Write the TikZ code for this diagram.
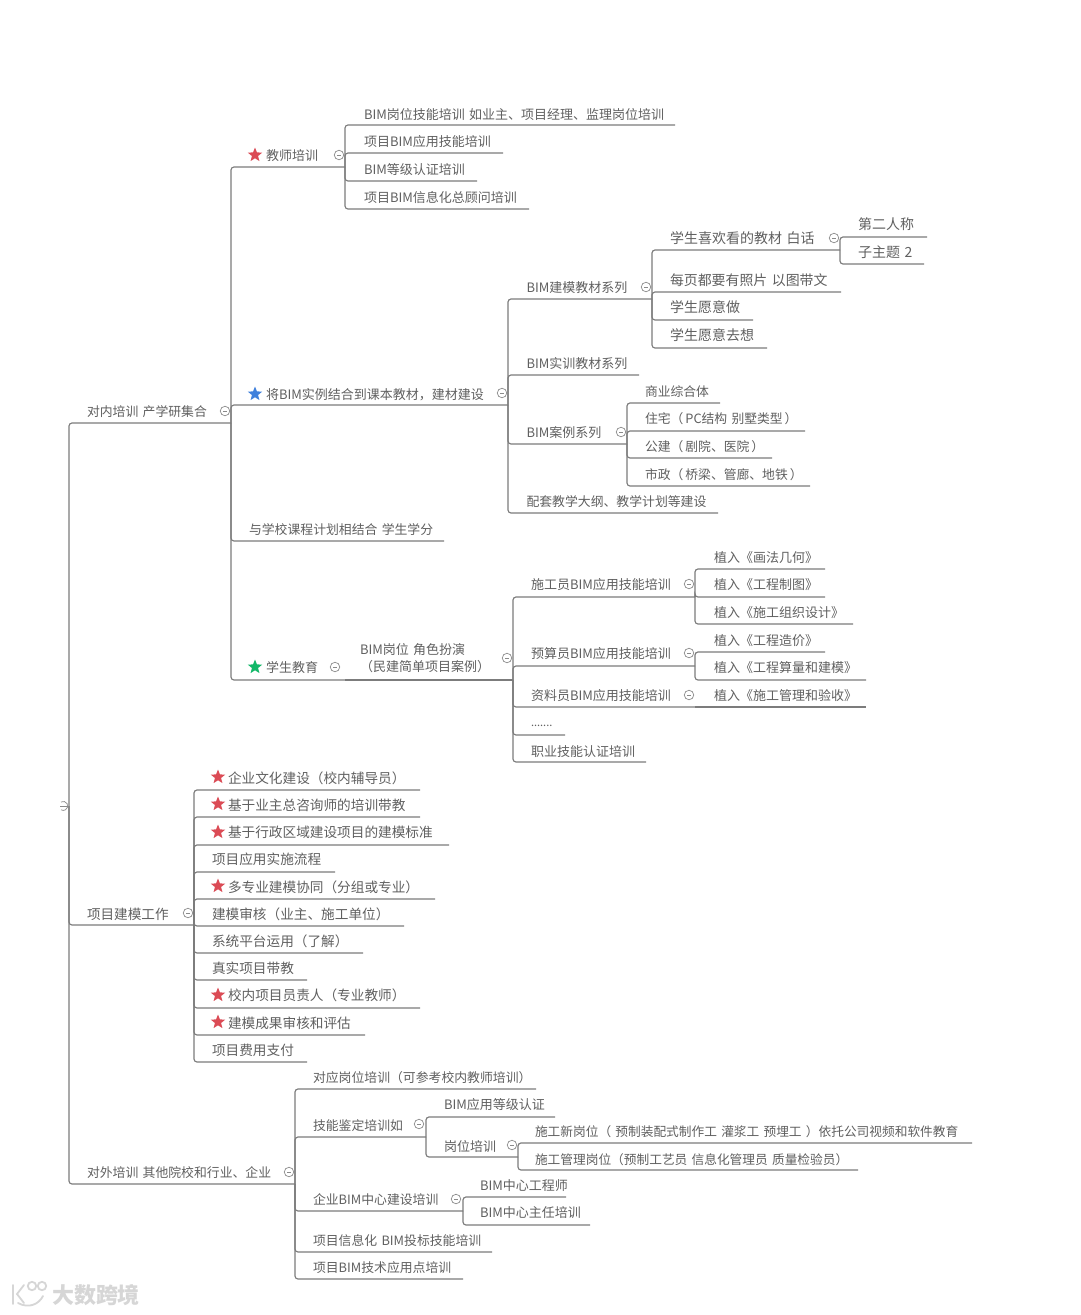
\documentclass[tikz,border=0pt]{standalone}
\usepackage{fontspec}
\setmainfont{Noto Sans CJK SC}
\usetikzlibrary{shapes.geometric}
\definecolor{txt}{HTML}{606060}
\definecolor{ln}{HTML}{7C7C7C}
\definecolor{icon}{HTML}{8A8A8A}
\definecolor{sred}{HTML}{DB4B55}
\definecolor{sblue}{HTML}{3F80DC}
\definecolor{sgreen}{HTML}{12B868}
\definecolor{wm}{HTML}{D6D6D6}
\tikzset{
  link/.style={draw=ln,line width=1.15pt,rounded corners=3pt},
  topic/.style={anchor=south west,inner sep=0pt,outer sep=0pt,align=left,text=txt},
  fold/.style={circle,draw=icon,line width=0.7pt,minimum size=9.5pt,inner sep=0pt,fill=white,
    path picture={\draw[icon,line width=0.7pt] ([xshift=2.5pt]path picture bounding box.west) -- ([xshift=-2.5pt]path picture bounding box.east);}},
  mark star/.style={star,star points=5,star point ratio=2.3,inner sep=0pt,minimum size=15pt,draw=none,fill=#1},
  wmark/.style={draw=wm,line width=1.8pt,line cap=round}
}
% [size]{name}{line start x}{line end x}{line y}{text centre y}{text x}{text}
\newcommand{\tp}[8][12.85]{%
  \node[topic,minimum width={(#4-#3)*1pt},text width={(#4-#3)*1pt},minimum height={2*(#5-#6-1)*1pt},
        font={\fontsize{#1}{17}\selectfont}] (#2) at (#3,#5) {\hspace*{\dimexpr#7pt-#3pt\relax}#8};}
% parent -> list of children
\newcommand{\lks}[2]{\foreach \cc in {#2} \draw[link] (#1.south east) |- (\cc.south east);}
\begin{document}
\begin{tikzpicture}[x=1pt,y=-1pt]
\useasboundingbox (0,0) rectangle (1080,1315);
\fill[white] (0,0) rectangle (1080,1315);

\node[inner sep=0pt,minimum size=0pt] (root) at (69,806) {};

% level 1
\tp{nei}{69}{231}{423}{411}{87}{对内培训 产学研集合}
\tp[13.6]{jm}{69}{194}{925}{913}{87}{项目建模工作}
\tp{wai}{69}{295}{1184}{1172}{87}{对外培训  其他院校和行业、企业}

% level 2 inner
\tp[13]{js}{231}{345}{167}{155}{266}{教师培训}
\tp[13]{kb}{231}{508}{405}{394}{266}{将BIM实例结合到课本教材，建材建设}
\tp{xk}{231}{444}{541}{529}{249}{与学校课程计划相结合 学生学分}
\tp[13]{xs}{231}{345}{680}{667}{266}{学生教育}
\tp[13]{gw}{345}{513}{680}{657.5}{360}{BIM岗位 角色扮演\\\hspace*{15pt}（民建简单项目案例）}
\node[mark star=sred] (s1) at (255,155) {};
\node[mark star=sblue] (s2) at (255,394) {};
\node[mark star=sgreen] (s3) at (255,667) {};

% teachers
\tp[13]{j1}{345}{675}{125}{114}{364}{BIM岗位技能培训 如业主、项目经理、监理岗位培训}
\tp[13]{j2}{345}{503}{153}{141}{364}{项目BIM应用技能培训}
\tp[13]{j3}{345}{477}{181}{169}{364}{BIM等级认证培训}
\tp[13]{j4}{345}{529}{209}{197}{364}{项目BIM信息化总顾问培训}

% textbooks
\tp[13]{k1}{508}{652}{299}{287}{526.5}{BIM建模教材系列}
\tp[13]{k2}{508}{639}{375}{363}{526.5}{BIM实训教材系列}
\tp[13]{k3}{508}{627}{444}{432}{526.5}{BIM案例系列}
\tp{k4}{508}{718}{513}{501}{526.5}{配套教学大纲、教学计划等建设}

\tp[14]{m1}{652}{840}{250}{237}{670}{学生喜欢看的教材 白话}
\tp[13.9]{m2}{652}{841}{292}{279}{670}{每页都要有照片 以图带文}
\tp[14]{m3}{652}{753}{320}{306}{670}{学生愿意做}
\tp[14]{m4}{652}{767}{348}{334}{670}{学生愿意去想}
\tp[14]{p1}{840}{927}{237}{223}{858}{第二人称}
\tp[14]{p2}{840}{924}{264}{251}{858}{子主题 2}

\tp[12.8]{c1}{627}{720}{403}{391}{645}{商业综合体}
\tp[12.8]{c2}{627}{805}{431}{418}{645}{住宅（\hspace{2pt}PC结构 别墅类型\hspace{2pt}）}
\tp[12.8]{c3}{627}{772}{458}{446}{645}{公建（\hspace{2pt}剧院、医院\hspace{2pt}）}
\tp[12.8]{c4}{627}{810}{486}{474}{645}{市政（\hspace{2pt}桥梁、管廊、地铁\hspace{2pt}）}

% students
\tp[13]{g1}{513}{695}{597}{584}{531}{施工员BIM应用技能培训}
\tp[13]{g2}{513}{695}{666}{653}{531}{预算员BIM应用技能培训}
\tp[13]{g3}{513}{695}{707}{695}{531}{资料员BIM应用技能培训}
\tp[11]{g4}{513}{565}{735}{725}{531}{.......}
\tp[13]{g5}{513}{646}{762}{751}{531}{职业技能认证培训}

\tp[13]{h1}{695}{825}{569}{557}{714}{植入《画法几何》}
\tp[13]{h2}{695}{825}{597}{584}{714}{植入《工程制图》}
\tp[13]{h3}{695}{853}{624}{612}{714}{植入《施工组织设计》}
\tp[13]{h4}{695}{825}{652}{640}{714}{植入《工程造价》}
\tp[13]{h5}{695}{866}{680}{667}{714}{植入《工程算量和建模》}
\tp[13]{h6}{695}{866}{707}{695}{714}{植入《施工管理和验收》}

% modelling list
\tp[13.65]{b1}{194}{420}{790}{777}{228}{企业文化建设（校内辅导员）}
\tp[13.65]{b2}{194}{420}{817}{804}{228}{基于业主总咨询师的培训带教}
\tp[13.65]{b3}{194}{449}{845}{831}{228}{基于行政区域建设项目的建模标准}
\tp[13.65]{b4}{194}{335}{872}{858}{212}{项目应用实施流程}
\tp[13.65]{b5}{194}{435}{899}{886}{228}{多专业建模协同（分组或专业）}
\tp[13.65]{b6}{194}{404}{926}{913}{212}{建模审核（业主、施工单位）}
\tp[13.65]{b7}{194}{363}{953}{940}{212}{系统平台运用（了解）}
\tp[13.65]{b8}{194}{307}{980}{967}{212}{真实项目带教}
\tp[13.65]{b9}{194}{420}{1008}{994}{228}{校内项目员责人（专业教师）}
\tp[13.65]{b10}{194}{365}{1035}{1022}{228}{建模成果审核和评估}
\tp[13.65]{b11}{194}{307}{1062}{1049}{212}{项目费用支付}
\node[mark star=sred] (t1) at (218,777) {};
\node[mark star=sred] (t2) at (218,804) {};
\node[mark star=sred] (t3) at (218,832) {};
\node[mark star=sred] (t5) at (218,886) {};
\node[mark star=sred] (t9) at (218,995) {};
\node[mark star=sred] (t10) at (218,1022) {};

% external
\tp{w1}{295}{536}{1089}{1077}{313}{对应岗位培训（可参考校内教师培训）}
\tp{w2}{295}{426}{1137}{1125}{313}{技能鉴定培训如}
\tp{w3}{295}{463}{1211}{1199}{313}{企业BIM中心建设培训}
\tp{w4}{295}{492}{1252}{1240}{313}{项目信息化 BIM投标技能培训}
\tp{w5}{295}{463}{1279}{1267}{313}{项目BIM技术应用点培训}

\tp[13]{x1}{426}{555}{1117}{1104}{444}{BIM应用等级认证}
\tp[13]{x2}{426}{518}{1157}{1145}{444}{岗位培训}
\tp[12.7]{y1}{518}{972}{1143}{1131}{535}{施工新岗位（ 预制装配式制作工 灌浆工 预埋工 ）依托公司视频和软件教育}
\tp[12.7]{y2}{518}{858}{1170}{1159}{535}{施工管理岗位（预制工艺员 信息化管理员 质量检验员）}
\tp[13]{z1}{463}{566}{1197}{1185}{480}{BIM中心工程师}
\tp[13]{z2}{463}{590}{1225}{1212}{480}{BIM中心主任培训}

% connectors
\foreach \cc in {nei,jm,wai} \draw[link] (root.center) |- (\cc.south east);
\lks{nei}{js,kb,xk,xs}
\draw[link] (xs.south east) -- (gw.south east);
\lks{js}{j1,j2,j3,j4}
\lks{kb}{k1,k2,k3,k4}
\lks{k1}{m1,m2,m3,m4}
\lks{m1}{p1,p2}
\lks{k3}{c1,c2,c3,c4}
\lks{gw}{g1,g2,g3,g4,g5}
\lks{g1}{h1,h2,h3}
\lks{g2}{h4,h5}
\draw[link] (g3.south east) -- (h6.south east);
\lks{jm}{b1,b2,b3,b4,b5,b6,b7,b8,b9,b10,b11}
\lks{wai}{w1,w2,w3,w4,w5}
\lks{w2}{x1,x2}
\lks{x2}{y1,y2}
\lks{w3}{z1,z2}

% fold marks
\node[fold] (f1) at (225,411) {};
\node[fold] (f2) at (339,155) {};
\node[fold] (f3) at (502,393) {};
\node[fold] (f4) at (335,667) {};
\node[fold] (f5) at (507,658) {};
\node[fold] (f6) at (646,287) {};
\node[fold] (f7) at (834,238) {};
\node[fold] (f8) at (621,432) {};
\node[fold] (f9) at (689,584) {};
\node[fold] (f10) at (689,653) {};
\node[fold] (f11) at (689,695) {};
\node[fold] (f12) at (188,913) {};
\node[fold] (f13) at (289,1172) {};
\node[fold] (f14) at (419,1124) {};
\node[fold] (f15) at (512,1145) {};
\node[fold] (f16) at (456,1199) {};
% half-hidden root mark
\draw[icon,line width=0.7pt] (61,802) arc[start angle=120,end angle=-120,radius=4.5pt];
\draw[icon,line width=0.7pt] (60,806.5) -- (67,806.5);

% watermark
\node[inner sep=0pt,text=wm,font={\fontsize{22}{24}\selectfont\bfseries}] (wmtext) at (96,1295) {大数跨境};
\draw[wmark] (13,1285) -- (13,1304);
\draw[wmark] (24,1285) -- (17,1294) -- (24,1303);
\draw[wmark] (18,1303) .. controls (29,1309) and (39,1304) .. (43,1296);
\draw[wmark] (32,1286) circle[radius=4.2pt];
\draw[wmark] (42,1286) circle[radius=4.2pt];
\end{tikzpicture}
\end{document}
